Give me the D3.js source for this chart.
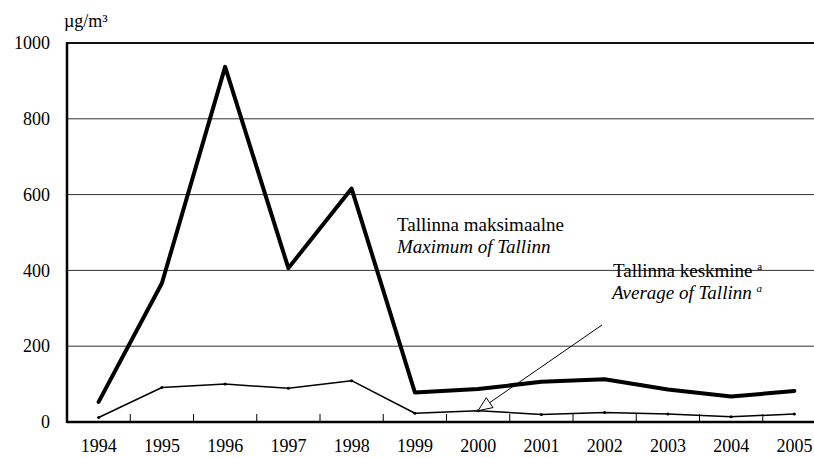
<!DOCTYPE html>
<html>
<head>
<meta charset="utf-8">
<script src="https://cdn.jsdelivr.net/npm/d3@7/dist/d3.min.js"></script>
</head>
<body style="margin:0">
<div class="chart"></div>
<script>
// data
var years = ["1994", "1995", "1996", "1997", "1998", "1999", "2000", "2001", "2002", "2003", "2004", "2005"];
var maxTallinn = [53, 366, 937, 406, 616, 78, 87, 106, 113, 86, 67, 82];
var avgTallinn = [12, 91, 100, 89, 109, 23, 30, 20, 25, 21, 14, 21];
var yTicks = [0, 200, 400, 600, 800, 1000];

var FONT = "'Liberation Serif'";
var W = 814, H = 458;
// plot box (runs past the right edge of the picture, as in the original)
var margin = {top: 43, left: 67, bottom: 36};
var bandW = 63.25;
var plotRight = margin.left + bandW * years.length;
var zeroY = H - margin.bottom;

var svg = d3.select(".chart").append("svg")
    .attr("width", W)
    .attr("height", H)
    .attr("font-family", "Liberation Serif");

var x = d3.scaleBand().domain(years).range([margin.left, plotRight]);
var y = d3.scaleLinear().domain([0, 1000]).range([zeroY, margin.top]);
var cx = function(d) { return x(d) + x.bandwidth() / 2; };

// grid lines
svg.append("g")
    .selectAll("line")
    .data(yTicks.filter(function(d) { return d > 0 && d < 1000; }))
    .enter().append("line")
    .attr("x1", margin.left).attr("x2", plotRight)
    .attr("y1", function(d) { return y(d); })
    .attr("y2", function(d) { return y(d); })
    .attr("stroke", "#333")
    .attr("stroke-width", 1);

// top frame line
svg.append("line")
    .attr("x1", margin.left).attr("x2", plotRight)
    .attr("y1", y(1000)).attr("y2", y(1000))
    .attr("stroke", "#111").attr("stroke-width", 2);

// y labels
var yAxis = d3.axisLeft(y).tickValues(yTicks).tickFormat(d3.format("d")).tickSize(0).tickPadding(17);
svg.append("g")
    .attr("transform", "translate(" + margin.left + ",0)")
    .call(yAxis)
    .attr("font-family", "Liberation Serif")
    .call(function(g) { g.select(".domain").remove(); })
    .selectAll("text")
    .attr("font-size", 18)
    .style("font-family", FONT)
    .attr("fill", "#000");

// unit
svg.append("text")
    .attr("x", 64).attr("y", 27)
    .attr("font-size", 18)
    .style("font-family", FONT)
    .text("µg/m³");

// x labels
var xAxis = d3.axisBottom(x).tickSize(0).tickPadding(17);
svg.append("g")
    .attr("transform", "translate(0," + zeroY + ")")
    .call(xAxis)
    .attr("font-family", "Liberation Serif")
    .call(function(g) { g.select(".domain").remove(); })
    .selectAll("text")
    .attr("font-size", 18)
    .style("font-family", FONT)
    .attr("fill", "#000");

// category boundary ticks (pointing up)
svg.append("g")
    .selectAll("line")
    .data(years.slice(1))
    .enter().append("line")
    .attr("x1", function(d) { return x(d); })
    .attr("x2", function(d) { return x(d); })
    .attr("y1", zeroY).attr("y2", zeroY - 8)
    .attr("stroke", "#000").attr("stroke-width", 1);

// lines
var line = function(vals) {
    return d3.line()
        .x(function(d, i) { return cx(years[i]); })
        .y(function(d) { return y(d); })(vals);
};

svg.append("path")
    .attr("d", line(avgTallinn))
    .attr("fill", "none")
    .attr("stroke", "#000")
    .attr("stroke-width", 1.5)
    .attr("stroke-linejoin", "round");

svg.append("g")
    .selectAll("circle")
    .data(avgTallinn)
    .enter().append("circle")
    .attr("cx", function(d, i) { return cx(years[i]); })
    .attr("cy", function(d) { return y(d); })
    .attr("r", 1.5)
    .attr("fill", "#000");

svg.append("path")
    .attr("d", line(maxTallinn))
    .attr("fill", "none")
    .attr("stroke", "#000")
    .attr("stroke-width", 4)
    .attr("stroke-linejoin", "round")
    .attr("stroke-linecap", "round");

// axes lines
svg.append("line")
    .attr("x1", margin.left).attr("x2", margin.left)
    .attr("y1", y(1000) - 1).attr("y2", zeroY + 1)
    .attr("stroke", "#000").attr("stroke-width", 2.5);
svg.append("line")
    .attr("x1", margin.left).attr("x2", plotRight)
    .attr("y1", zeroY).attr("y2", zeroY)
    .attr("stroke", "#000").attr("stroke-width", 2.5);

// labels
svg.append("text").attr("x", 397).attr("y", 231)
    .attr("font-size", 19).style("font-family", FONT)
    .text("Tallinna maksimaalne");
svg.append("text").attr("x", 397).attr("y", 253)
    .attr("font-size", 19).style("font-family", FONT).style("font-style", "italic")
    .text("Maximum of Tallinn");

var t1 = svg.append("text").attr("x", 613).attr("y", 277)
    .attr("font-size", 19).style("font-family", FONT);
t1.append("tspan").text("Tallinna keskmine ");
t1.append("tspan").attr("font-size", 11).attr("dy", -7).text("a");
var t2 = svg.append("text").attr("x", 612).attr("y", 299)
    .attr("font-size", 19).style("font-family", FONT).style("font-style", "italic");
t2.append("tspan").text("Average of Tallinn ");
t2.append("tspan").attr("font-size", 11).attr("dy", -7).text("a");

// arrow to the average line
var tipX = cx("2000"), tipY = y(avgTallinn[6]);
var startX = 602, startY = 325;
var ang = Math.atan2(tipY - startY, tipX - startX);
var headL = 14, headW = 6;
var bx = tipX - headL * Math.cos(ang), by = tipY - headL * Math.sin(ang);
svg.append("line")
    .attr("x1", startX).attr("y1", startY)
    .attr("x2", bx).attr("y2", by)
    .attr("stroke", "#000").attr("stroke-width", 1);
svg.append("path")
    .attr("d", "M" + tipX + "," + tipY +
        "L" + (bx + headW * Math.sin(ang)) + "," + (by - headW * Math.cos(ang)) +
        "L" + (bx - headW * Math.sin(ang)) + "," + (by + headW * Math.cos(ang)) + "Z")
    .attr("fill", "#fff")
    .attr("stroke", "#000")
    .attr("stroke-width", 1);
</script>
</body>
</html>
